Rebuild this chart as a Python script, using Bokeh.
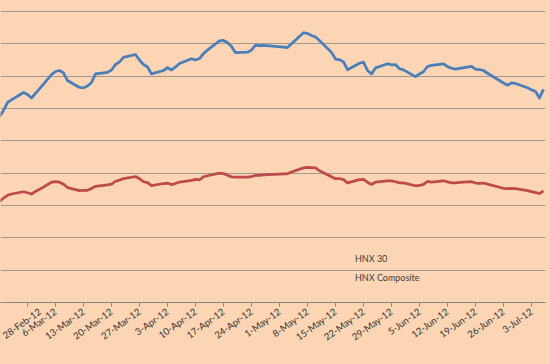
import pandas as pd
from bokeh.plotting import figure
from bokeh.models import Range1d, FixedTicker, Grid, Legend, LegendItem
from bokeh.embed import file_html
from bokeh.resources import INLINE

# ---- data ----
dates = [
    "2012-02-21", "2012-02-22", "2012-02-23", "2012-02-24", "2012-02-27", "2012-02-28", "2012-02-29",
    "2012-03-01", "2012-03-02", "2012-03-05", "2012-03-06", "2012-03-07", "2012-03-08", "2012-03-09",
    "2012-03-12", "2012-03-13", "2012-03-14", "2012-03-15", "2012-03-16", "2012-03-19", "2012-03-20",
    "2012-03-21", "2012-03-22", "2012-03-23", "2012-03-26", "2012-03-27", "2012-03-28", "2012-03-29",
    "2012-03-30",
    "2012-04-02", "2012-04-03", "2012-04-04", "2012-04-05", "2012-04-06", "2012-04-09", "2012-04-10",
    "2012-04-11", "2012-04-12", "2012-04-13", "2012-04-16", "2012-04-17", "2012-04-18", "2012-04-19",
    "2012-04-20", "2012-04-23", "2012-04-24", "2012-04-25", "2012-04-26", "2012-04-27",
    "2012-05-02", "2012-05-03", "2012-05-04", "2012-05-07", "2012-05-08", "2012-05-09", "2012-05-10",
    "2012-05-11", "2012-05-14", "2012-05-15", "2012-05-16", "2012-05-17", "2012-05-18", "2012-05-21",
    "2012-05-22", "2012-05-23", "2012-05-24", "2012-05-25", "2012-05-28", "2012-05-29", "2012-05-30",
    "2012-05-31",
    "2012-06-01", "2012-06-04", "2012-06-05", "2012-06-06", "2012-06-07", "2012-06-08", "2012-06-11",
    "2012-06-12", "2012-06-13", "2012-06-14", "2012-06-15", "2012-06-18", "2012-06-19", "2012-06-20",
    "2012-06-21", "2012-06-22", "2012-06-25", "2012-06-26", "2012-06-27", "2012-06-28", "2012-06-29",
    "2012-07-02", "2012-07-03", "2012-07-04", "2012-07-05", "2012-07-06",
]

hnx30 = [
    115.1, 118.8, 123.7, 125.3, 129.9, 128.7, 126.5,
    129.3, 132.1, 141.0, 142.9, 143.5, 142.0, 137.3, 133.0, 132.8, 133.9, 136.1, 141.4, 142.3, 143.8,
    147.2, 148.8, 151.6, 153.4, 150.0, 147.2, 145.7, 141.4,
    143.5, 145.2, 143.8, 145.7, 147.8, 150.8, 150.0, 150.9, 154.0, 156.1, 161.9, 162.1, 160.8, 158.4,
    154.5, 154.8, 156.1, 159.2, 158.9, 159.0,
    157.9, 157.7, 160.0, 166.9, 166.4, 165.2, 164.2, 162.1, 154.7, 150.6, 150.2, 148.8, 144.0, 148.0,
    148.7, 143.5, 141.4, 145.1, 147.7, 147.0, 147.2, 144.6,
    143.9, 139.7, 141.4, 142.7, 146.0, 146.7, 147.6, 145.9, 144.9, 144.4, 144.8, 146.0, 144.4, 144.1,
    143.5, 141.8, 137.3, 135.8, 134.4, 135.8, 135.5,
    132.8, 131.5, 130.6, 126.5, 131.8,
]

hnx_composite = [
    62.5, 64.6, 66.3, 67.1, 68.5, 67.9, 67.1,
    68.7, 70.0, 74.4, 74.8, 74.4, 73.2, 71.1, 69.2, 69.4, 69.4, 70.5, 71.9, 72.7, 73.2,
    75.0, 75.7, 76.6, 77.9, 76.6, 74.7, 74.2, 72.3,
    73.6, 73.9, 72.9, 73.6, 74.5, 75.6, 76.1, 75.9, 77.8, 78.4, 80.0, 79.7, 78.7, 77.7,
    77.5, 77.5, 77.8, 78.7, 78.6, 78.9,
    79.6, 79.6, 80.7, 83.3, 83.6, 83.5, 83.3, 81.5, 77.8, 76.6, 76.7, 76.0, 74.0, 76.0,
    76.2, 74.4, 73.0, 74.5, 75.2, 75.2, 74.7, 74.0,
    74.0, 72.2, 72.4, 73.1, 74.9, 74.5, 75.3, 74.6, 74.0, 74.0, 74.3, 74.7, 73.9, 73.7,
    73.9, 73.2, 71.3, 70.6, 70.5, 70.6, 70.4,
    69.2, 68.6, 68.0, 67.4, 69.0,
]

tick_labels = [
    "28-Feb-12", "6-Mar-12", "13-Mar-12", "20-Mar-12", "27-Mar-12", "3-Apr-12", "10-Apr-12",
    "17-Apr-12", "24-Apr-12", "1-May-12", "8-May-12", "15-May-12", "22-May-12", "29-May-12",
    "5-Jun-12", "12-Jun-12", "19-Jun-12", "26-Jun-12", "3-Jul-12",
]

series_names = ["HNX 30", "HNX Composite"]

# ---- build ----
x = pd.to_datetime(dates)
tick_dt = pd.to_datetime(tick_labels, format="%d-%b-%y")
tick_ms = [float(t.timestamp() * 1000) for t in tick_dt]

BG = "#FCD5B4"
BLUE = "#4A7EBB"
RED = "#BE4B48"

p = figure(
    width=550, height=364,
    x_axis_type="datetime",
    x_range=Range1d(pd.Timestamp("2012-02-21 06:00"), pd.Timestamp("2012-07-06 12:00")),
    y_range=Range1d(0, 186.8),
    y_axis_location=None,
    output_backend="svg", toolbar_location=None,
    background_fill_color=BG, border_fill_color=BG,
    outline_line_color=None,
    min_border_left=0, min_border_right=5, min_border_top=0, min_border_bottom=62,
)

p.xgrid.grid_line_color = None
for g in p.ygrid:
    g.grid_line_color = None
p.add_layout(Grid(dimension=1, ticker=FixedTicker(ticks=[20, 40, 60, 80, 100, 120, 140, 160, 180]),
                  grid_line_color="#A19890", grid_line_width=1))

ax = p.xaxis[0]
ax.ticker = FixedTicker(ticks=tick_ms)
ax.major_label_overrides = {t: lab for t, lab in zip(tick_ms, tick_labels)}
ax.major_label_orientation = 0.62
ax.major_label_text_font = "Lato"
ax.major_label_text_font_size = "9.5px"
ax.major_label_text_color = "#333333"
ax.major_label_standoff = 4
ax.axis_line_color = "#8C8680"
ax.major_tick_line_color = "#8C8680"
ax.major_tick_out = 4
ax.major_tick_in = 0
ax.minor_tick_line_color = None

p.line(x, hnx30, line_color=BLUE, line_width=2.75, line_join="round")
p.line(x, hnx_composite, line_color=RED, line_width=2.75, line_join="round")

# legend swatches (thinner lines, as in the original)
sw1 = p.line([], [], line_color=BLUE, line_width=1.5)
sw2 = p.line([], [], line_color=RED, line_width=1.5)
legend = Legend(
    items=[LegendItem(label=series_names[0], renderers=[sw1]),
           LegendItem(label=series_names[1], renderers=[sw2])],
    location=(332, 17), orientation="vertical",
    background_fill_alpha=0, border_line_alpha=0,
    padding=0, margin=0, spacing=4,
    glyph_width=20, glyph_height=15, label_height=15,
    label_standoff=3,
    label_text_font="Lato", label_text_font_size="9px", label_text_color="#404040",
)
p.add_layout(legend, "center")

html = file_html(p, INLINE)
html = html.replace("<head>", "<head><style>html,body{margin:0;padding:0;background:%s;overflow:hidden}</style>" % BG, 1)
open("out.html", "w").write(html)
